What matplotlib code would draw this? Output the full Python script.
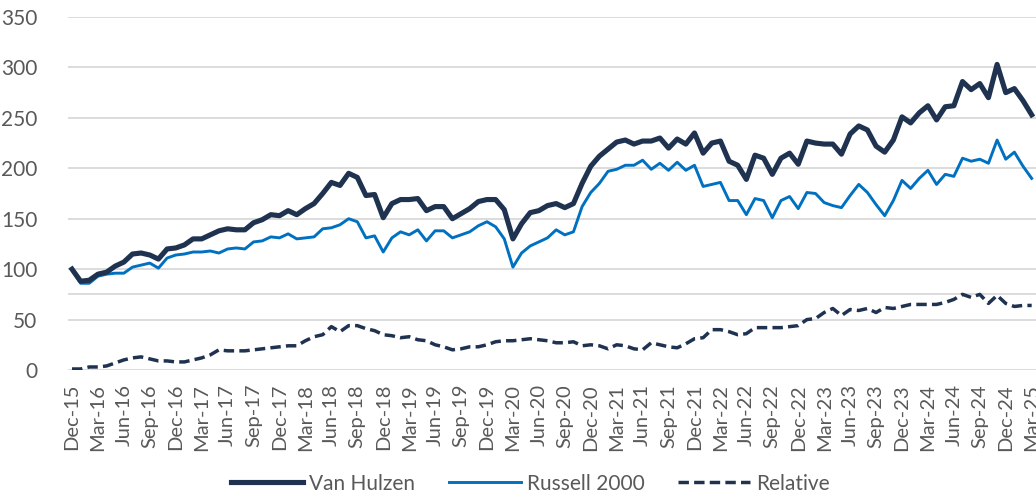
import matplotlib
matplotlib.use("Agg")
import matplotlib.pyplot as plt
import pandas as pd

plt.rcParams['font.family'] = ['Lato', 'DejaVu Sans']

months = [d.strftime('%b-%y') for d in pd.date_range('2015-12-01', periods=112, freq='MS')]

van_hulzen = [100, 88, 89, 95, 97, 103, 107, 115, 116, 114, 110, 120, 121, 124, 130, 130,
              134, 138, 140, 139, 139, 146, 149, 154, 153, 158, 154, 160, 165, 175, 186, 183,
              195, 191, 173, 174, 151, 165, 169, 169, 170, 158, 162, 162, 150, 155, 160, 167,
              169, 169, 159, 130, 145, 156, 158, 163, 165, 161, 165, 185, 202, 212, 219, 226,
              228, 224, 227, 227, 230, 220, 229, 224, 235, 215, 225, 227, 207, 203, 189, 213,
              210, 194, 210, 215, 204, 227, 225, 224, 224, 214, 234, 242, 238, 222, 216, 228,
              251, 245, 255, 262, 248, 261, 262, 286, 278, 284, 270, 303, 275, 279, 267, 253]

russell_2000 = [99, 86, 86, 93, 95, 96, 96, 102, 104, 106, 101, 111, 114, 115, 117, 117,
                118, 116, 120, 121, 120, 127, 128, 132, 131, 135, 130, 131, 132, 140, 141, 144,
                150, 147, 131, 133, 117, 131, 137, 134, 139, 128, 138, 138, 131, 134, 137, 143,
                147, 142, 130, 102, 116, 123, 127, 131, 139, 134, 137, 162, 176, 185, 197, 199,
                203, 203, 208, 199, 205, 198, 206, 198, 203, 182, 184, 186, 168, 168, 154, 170,
                168, 151, 168, 172, 160, 176, 175, 166, 163, 161, 173, 184, 176, 164, 153, 168,
                188, 180, 190, 198, 184, 194, 192, 210, 207, 209, 205, 228, 209, 216, 202, 190]

relative = [1, 1, 3, 3, 4, 7, 10, 12, 13, 11, 9, 9, 8, 8, 10, 12,
            15, 20, 19, 19, 19, 20, 21, 22, 23, 24, 24, 29, 33, 35, 43, 38,
            44, 44, 41, 39, 35, 34, 32, 33, 30, 29, 25, 23, 20, 21, 23, 23,
            25, 28, 29, 29, 30, 31, 30, 29, 27, 27, 28, 24, 25, 24, 21, 25,
            24, 21, 20, 27, 25, 23, 22, 26, 31, 32, 40, 40, 38, 35, 36, 42,
            42, 42, 42, 43, 44, 50, 51, 57, 61, 54, 60, 59, 61, 57, 62, 61,
            63, 65, 65, 65, 65, 67, 70, 75, 72, 75, 66, 74, 66, 63, 64, 64]

series_names = ['Van Hulzen', 'Russell 2000', 'Relative']

W, H = 1036, 495
fig = plt.figure(figsize=(W / 100, H / 100), dpi=100)
ax = fig.add_axes([68 / W, (H - 370) / H, 1 - 68 / W, (370 - 17) / H])

x = list(range(len(months)))
navy = '#1F3250'
blue = '#0070C0'
grid_c = '#D9D9D9'
txt_c = '#595959'

for yv in [0, 50, 75, 100, 150, 200, 250, 300, 350]:
    ax.axhline(yv, color=grid_c, lw=1.3, zorder=0)

ax.plot(x, van_hulzen, color=navy, lw=3.7, solid_joinstyle='round', label=series_names[0], zorder=3)
ax.plot(x, russell_2000, color=blue, lw=2.1, solid_joinstyle='round', label=series_names[1], zorder=2)
ax.plot(x, relative, color=navy, lw=2.5, dashes=(3.0, 1.5), label=series_names[2], zorder=2)

ax.set_xlim(-0.46, 111.5)
ax.set_ylim(0, 350)
ax.set_yticks([0, 50, 100, 150, 200, 250, 300, 350])
ax.set_xticks(x[::3])
ax.set_xticklabels(months[::3], rotation=90, fontsize=14.5, color=txt_c)
ax.tick_params(axis='y', labelsize=15, colors=txt_c, length=0, pad=22)
ax.tick_params(axis='x', length=0, pad=10, colors=txt_c)
for s in ax.spines.values():
    s.set_visible(False)

leg = fig.legend(loc='lower center', bbox_to_anchor=(0.512, -0.035), ncol=3, frameon=False,
                 fontsize=15, handlelength=3.45, handletextpad=0.3, columnspacing=1.6)
for t in leg.get_texts():
    t.set_color(txt_c)

fig.savefig('out.png', dpi=100)
